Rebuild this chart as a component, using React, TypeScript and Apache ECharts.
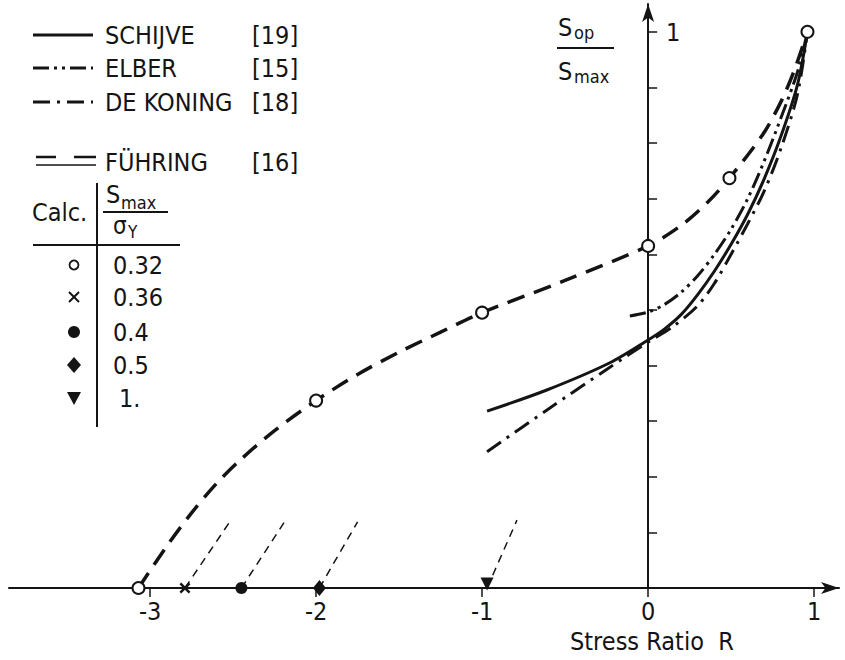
import React, { useEffect, useRef } from "react";
import * as echarts from "echarts";

// ---- data ----
const xTicks = [-3, -2, -1, 0, 1];
const yTicks = [0, 0.1, 0.2, 0.3, 0.4, 0.5, 0.6, 0.7, 0.8, 0.9, 1];

const fuhring: [number, number][] = [
  [-3.07, 0], [-2.9, 0.075], [-2.75, 0.135], [-2.6, 0.188], [-2.45, 0.232],
  [-2.25, 0.283], [-2.0, 0.337], [-1.75, 0.384], [-1.5, 0.424], [-1.25, 0.46],
  [-1.0, 0.495], [-0.5, 0.553], [0, 0.615], [0.2, 0.652], [0.36, 0.694],
  [0.49, 0.737], [0.69, 0.815], [0.8, 0.874], [0.88, 0.93], [0.96, 1.0],
];
const schijve: [number, number][] = [
  [-0.97, 0.318], [-0.61, 0.356], [-0.23, 0.405], [0, 0.446], [0.1, 0.466],
  [0.2, 0.492], [0.3, 0.528], [0.4, 0.57], [0.5, 0.618], [0.6, 0.672],
  [0.7, 0.736], [0.8, 0.812], [0.9, 0.905], [0.96, 1.0],
];
const elber: [number, number][] = [
  [-0.11, 0.489], [0, 0.496], [0.1, 0.51], [0.2, 0.532], [0.3, 0.562],
  [0.4, 0.6], [0.5, 0.645], [0.6, 0.7], [0.7, 0.768], [0.8, 0.845],
  [0.9, 0.928], [0.96, 1.0],
];
const deKoning: [number, number][] = [
  [-0.97, 0.245], [-0.6, 0.322], [-0.23, 0.397], [0, 0.442], [0.15, 0.47],
  [0.3, 0.508], [0.4, 0.548], [0.5, 0.6], [0.6, 0.655], [0.7, 0.714],
  [0.8, 0.79], [0.9, 0.888], [0.96, 1.0],
];
const calc032: [number, number][] = [[-3.07, 0], [-2, 0.337], [-1, 0.495], [0, 0.615], [0.49, 0.737], [0.96, 1.0]];
const calc036: [number, number][] = [[-2.79, 0]];
const calc04: [number, number][] = [[-2.45, 0]];
const calc05: [number, number][] = [[-1.98, 0]];
const calc1: [number, number][] = [[-0.97, 0]];
const thin036: [number, number][] = [[-2.79, 0], [-2.52, 0.119]];
const thin04: [number, number][] = [[-2.45, 0], [-2.19, 0.119]];
const thin05: [number, number][] = [[-1.98, 0], [-1.75, 0.119]];
const thin1: [number, number][] = [[-0.97, 0], [-0.79, 0.122]];

const legendNames = ["SCHIJVE", "ELBER", "DE KONING", "FÜHRING"];
const legendRefs = ["[19]", "[15]", "[18]", "[16]"];
const calcLevels = ["0.32", "0.36", "0.4", "0.5", "1."];

const INK = "#141414";
const FONT = '"DejaVu Sans Condensed", "Liberation Sans Narrow", "DejaVu Sans", sans-serif';
const CROSS = "path://M0,1.6L1.6,0L5,3.4L8.4,0L10,1.6L6.6,5L10,8.4L8.4,10L5,6.6L1.6,10L0,8.4L3.4,5Z";

function txt(text: string, x: number, y: number, size = 25, align: "left" | "center" = "left") {
  return {
    type: "text",
    x,
    y,
    style: { text, fill: INK, font: `${size}px ${FONT}`, textAlign: align, textVerticalAlign: "middle" },
  };
}
function ln(x1: number, y1: number, x2: number, y2: number, w = 2, dash?: number[]) {
  return {
    type: "line",
    shape: { x1, y1, x2, y2 },
    style: { stroke: INK, lineWidth: w, lineDash: dash },
  };
}

export default function App() {
  const ref = useRef<HTMLDivElement>(null);
  useEffect(() => {
    if (!ref.current) return;
    const chart = echarts.init(ref.current, undefined, { renderer: "svg" });

    const legendRowsY = [35, 68, 102, 162];
    const graphics: any[] = [];
    // legend samples
    graphics.push(ln(33, legendRowsY[0], 93, legendRowsY[0], 3));
    graphics.push(ln(33, legendRowsY[1], 93, legendRowsY[1], 3, [16, 5, 3, 5, 3, 5]));
    graphics.push(ln(33, legendRowsY[2], 93, legendRowsY[2], 3, [17, 7, 3, 7]));
    graphics.push(ln(36, 157, 56, 157, 2.5));
    graphics.push(ln(74, 157, 96, 157, 2.5));
    graphics.push(ln(36, 165, 96, 165, 1.3));
    legendNames.forEach((n, i) => {
      graphics.push(txt(n, 105, legendRowsY[i]));
      graphics.push(txt(legendRefs[i], 252, legendRowsY[i]));
    });
    // calc table
    graphics.push(txt("Calc.", 32, 212));
    graphics.push(ln(97, 183, 97, 427, 2));
    graphics.push(ln(33, 245, 180, 245, 2));
    graphics.push(txt("S", 106, 194));
    graphics.push(txt("max", 121, 202, 18));
    graphics.push(ln(103, 212, 168, 212, 1.8));
    graphics.push(txt("σ", 113, 226, 24));
    graphics.push(txt("Y", 128, 232, 17));
    const rowY = [265, 297, 332, 365, 398];
    calcLevels.forEach((v, i) => graphics.push(txt(v, i === 4 ? 119 : 113, rowY[i])));
    graphics.push({ type: "circle", shape: { cx: 74, cy: rowY[0], r: 4.5 }, style: { fill: "#fff", stroke: INK, lineWidth: 1.8 } });
    graphics.push(ln(69, rowY[1] - 5, 79, rowY[1] + 5, 2));
    graphics.push(ln(79, rowY[1] - 5, 69, rowY[1] + 5, 2));
    graphics.push({ type: "circle", shape: { cx: 74, cy: rowY[2], r: 6 }, style: { fill: INK } });
    graphics.push({ type: "polygon", shape: { points: [[74, rowY[3] - 8], [81, rowY[3]], [74, rowY[3] + 8], [67, rowY[3]]] }, style: { fill: INK } });
    graphics.push({ type: "polygon", shape: { points: [[67, rowY[4] - 6], [81, rowY[4] - 6], [74, rowY[4] + 7]] }, style: { fill: INK } });
    // y axis title
    graphics.push(txt("S", 558, 27));
    graphics.push(txt("op", 574, 32, 18));
    graphics.push(ln(557, 48, 614, 48, 1.8));
    graphics.push(txt("S", 558, 71));
    graphics.push(txt("max", 574, 76, 18));
    graphics.push(txt("1", 666, 32));
    // x axis title
    graphics.push(txt("Stress Ratio  R", 570, 641));

    const thick = (data: [number, number][], type: any, width = 3) => ({
      type: "line",
      data,
      smooth: 0.3,
      symbol: "none",
      lineStyle: { color: INK, width, type },
      z: 3,
    });
    const thin = (data: [number, number][]) => ({
      type: "line",
      data,
      symbol: "none",
      lineStyle: { color: INK, width: 1.5, type: [8, 6] },
      z: 2,
    });
    const solidItem = { color: INK, opacity: 1 };

    chart.setOption({
      animation: false,
      backgroundColor: "#fff",
      grid: { left: 9, right: 6, top: 4, bottom: 72, containLabel: false },
      xAxis: {
        type: "value",
        min: -3.85,
        max: 1.15,
        axisLine: { show: true, onZero: true, symbol: ["none", "arrow"], symbolSize: [9, 18], lineStyle: { color: INK, width: 2 } },
        axisTick: { show: true, inside: false, length: 9, customValues: xTicks, lineStyle: { color: INK, width: 1.5 } },
        axisLabel: { show: true, customValues: xTicks, margin: 11, color: INK, fontSize: 25, fontFamily: FONT },
        splitLine: { show: false },
      },
      yAxis: {
        type: "value",
        min: 0,
        max: 1.05,
        axisLine: { show: true, onZero: true, symbol: ["none", "arrow"], symbolSize: [9, 18], lineStyle: { color: INK, width: 2 } },
        axisTick: { show: true, inside: true, length: 9, customValues: yTicks, lineStyle: { color: INK, width: 1.5 } },
        axisLabel: { show: false },
        splitLine: { show: false },
      },
      series: [
        thick(fuhring, [18, 10], 3.5),
        thick(schijve, "solid", 3),
        thick(elber, [16, 5, 3, 5, 3, 5], 3),
        thick(deKoning, [17, 7, 3, 7], 3),
        thin(thin036),
        thin(thin04),
        thin(thin05),
        thin(thin1),
        { type: "scatter", data: calc032, symbol: "circle", symbolSize: 12, itemStyle: { color: "#fff", borderColor: INK, borderWidth: 2, opacity: 1 }, z: 5 },
        { type: "scatter", data: calc036, symbol: CROSS, symbolSize: 11, itemStyle: solidItem, z: 5 },
        { type: "scatter", data: calc04, symbol: "circle", symbolSize: 12, itemStyle: solidItem, z: 5 },
        { type: "scatter", data: calc05, symbol: "diamond", symbolSize: [13, 16], itemStyle: solidItem, z: 5 },
        { type: "scatter", data: calc1, symbol: "triangle", symbolRotate: 180, symbolSize: [13, 13], symbolOffset: [0, -4], itemStyle: solidItem, z: 5 },
      ],
      graphic: graphics,
    });
    return () => chart.dispose();
  }, []);
  return <div ref={ref} style={{ position: "absolute", left: 0, top: 0, width: 845, height: 660 }} />;
}
